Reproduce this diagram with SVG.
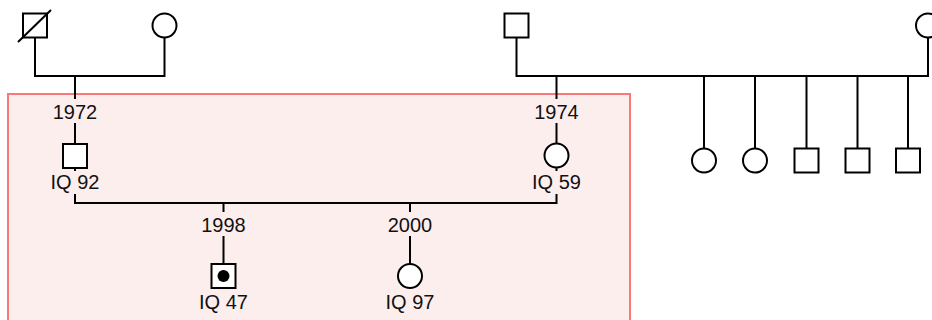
<svg xmlns="http://www.w3.org/2000/svg" width="932" height="320" viewBox="0 0 932 320">
<style>
.n{fill:#fff;stroke:#000;stroke-width:2}
.c{fill:none;stroke:#000;stroke-width:2}
.t{font-family:"Liberation Sans",Arial,sans-serif;font-size:20px;fill:#111;text-anchor:middle}
</style>
<rect id="family-box" x="8" y="94" width="622" height="240" fill="#fdeeee" stroke="#f87878" stroke-width="2"/>
<g id="connectors" class="c">
<path d="M35 38V76H164.5V37.5"/>
<path d="M75 76V99M75 123V144M75 168V171M75 194V203H556.5V194M556.5 168V171"/>
<path d="M516.5 37.5V76H928V37.5"/>
<path d="M556.5 76V99M556.5 123V143.5"/>
<path d="M704 76V148.5M755 76V148.5M806.5 76V148.5M857.5 76V148.5M908 76V148.5"/>
<path d="M223.5 203V212M223.5 236V264M410 203V212M410 236V264"/>
</g>
<g id="grandfather1"><rect class="n" x="23" y="13.5" width="24" height="24"/><line x1="18" y1="42" x2="51" y2="10" stroke="#000" stroke-width="2"/></g>
<g id="grandmother1"><circle class="n" cx="164.5" cy="25.5" r="12"/></g>
<g id="grandfather2"><rect class="n" x="504.5" y="13.5" width="24" height="24"/></g>
<g id="grandmother2"><circle class="n" cx="928" cy="25.5" r="12"/></g>
<g id="marriage1972"><text class="t" x="75" y="119">1972</text></g>
<g id="marriage1974"><text class="t" x="556.5" y="119">1974</text></g>
<g id="father"><rect class="n" x="63" y="144" width="24" height="24"/><text class="t" x="75" y="189">IQ 92</text></g>
<g id="mother"><circle class="n" cx="556.5" cy="155.5" r="12"/><text class="t" x="556.5" y="189">IQ 59</text></g>
<g id="aunt1"><circle class="n" cx="704" cy="160.5" r="12"/></g>
<g id="aunt2"><circle class="n" cx="755" cy="160.5" r="12"/></g>
<g id="uncle1"><rect class="n" x="794.5" y="148.5" width="24" height="24"/></g>
<g id="uncle2"><rect class="n" x="845.5" y="148.5" width="24" height="24"/></g>
<g id="uncle3"><rect class="n" x="896" y="148.5" width="24" height="24"/></g>
<g id="birth1998"><text class="t" x="223.5" y="232">1998</text></g>
<g id="birth2000"><text class="t" x="410" y="232">2000</text></g>
<g id="proband"><rect class="n" x="211.5" y="264" width="24" height="24"/><circle cx="223.5" cy="276" r="6" fill="#000"/><text class="t" x="223.5" y="309">IQ 47</text></g>
<g id="sister"><circle class="n" cx="410" cy="276" r="12"/><text class="t" x="410" y="309">IQ 97</text></g>
</svg>
